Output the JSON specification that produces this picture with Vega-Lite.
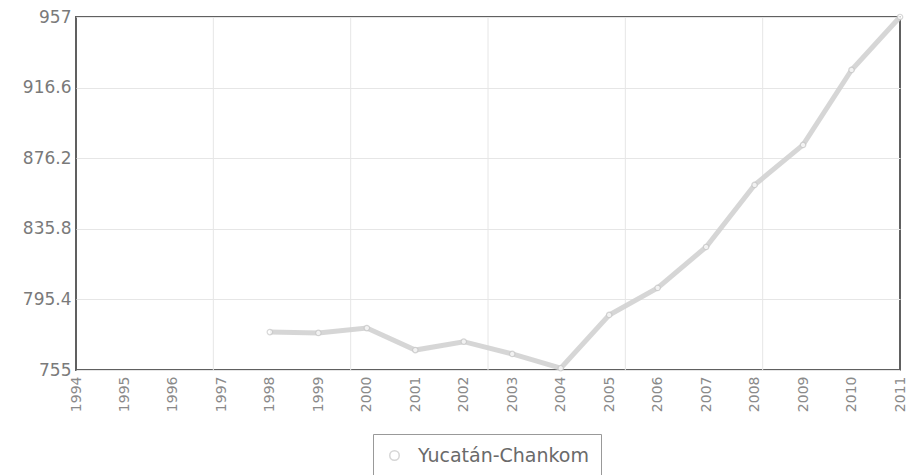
{
  "$schema": "https://vega.github.io/schema/vega-lite/v6.json",
  "autosize": {"type": "none"},
  "width": 824,
  "height": 353,
  "padding": {"left": 76, "top": 17, "right": 8, "bottom": 105},
  "background": "white",
  "config": {
    "view": {"stroke": "#606060", "strokeWidth": 2},
    "font": "DejaVu Sans"
  },
  "datasets": {
    "main": [
      {"year": 1998, "value": 776.7, "series": "Yucatán-Chankom"},
      {"year": 1999, "value": 776.2, "series": "Yucatán-Chankom"},
      {"year": 2000, "value": 779.0, "series": "Yucatán-Chankom"},
      {"year": 2001, "value": 766.4, "series": "Yucatán-Chankom"},
      {"year": 2002, "value": 771.2, "series": "Yucatán-Chankom"},
      {"year": 2003, "value": 764.2, "series": "Yucatán-Chankom"},
      {"year": 2004, "value": 756.0, "series": "Yucatán-Chankom"},
      {"year": 2005, "value": 786.5, "series": "Yucatán-Chankom"},
      {"year": 2006, "value": 802.0, "series": "Yucatán-Chankom"},
      {"year": 2007, "value": 825.4, "series": "Yucatán-Chankom"},
      {"year": 2008, "value": 860.9, "series": "Yucatán-Chankom"},
      {"year": 2009, "value": 883.8, "series": "Yucatán-Chankom"},
      {"year": 2010, "value": 926.7, "series": "Yucatán-Chankom"},
      {"year": 2011, "value": 957.0, "series": "Yucatán-Chankom"}
    ],
    "grid": [
      {"g": 1996.8333},
      {"g": 1999.6667},
      {"g": 2002.5},
      {"g": 2005.3333},
      {"g": 2008.1667}
    ]
  },
  "layer": [
    {
      "data": {"name": "grid"},
      "mark": {"type": "rule", "color": "#e6e6e6", "strokeWidth": 1},
      "encoding": {
        "x": {
          "field": "g", "type": "quantitative",
          "scale": {"domain": [1994, 2011], "nice": false, "zero": false},
          "axis": {
            "title": null, "values": [1994,1995,1996,1997,1998,1999,2000,2001,2002,2003,2004,2005,2006,2007,2008,2009,2010,2011],
            "format": "d", "labelAngle": 270, "labelFontSize": 14, "labelColor": "#8a8a8a",
            "grid": false, "domain": false, "ticks": false, "labelPadding": 6
          }
        }
      }
    },
    {
      "data": {"name": "main"},
      "mark": {"type": "line", "strokeWidth": 5, "opacity": 0.9},
      "encoding": {
        "x": {
          "field": "year", "type": "quantitative",
          "scale": {"domain": [1994, 2011], "nice": false, "zero": false},
          "axis": {
            "title": null, "values": [1994,1995,1996,1997,1998,1999,2000,2001,2002,2003,2004,2005,2006,2007,2008,2009,2010,2011],
            "format": "d", "labelAngle": 270, "labelFontSize": 14, "labelColor": "#8a8a8a",
            "grid": false, "domain": false, "ticks": false, "labelPadding": 6
          }
        },
        "y": {
          "field": "value", "type": "quantitative",
          "scale": {"domain": [755, 957], "nice": false, "zero": false},
          "axis": {
            "title": null, "values": [755, 795.4, 835.8, 876.2, 916.6, 957],
            "labelExpr": "'' + datum.value",
            "labelFontSize": 17, "labelColor": "#7a7a7a", "domain": false, "ticks": false,
            "gridColor": "#e6e6e6", "labelPadding": 5
          }
        },
        "color": {
          "field": "series", "type": "nominal",
          "scale": {"range": ["#d2d2d2"]},
          "legend": {
            "title": null, "orient": "none", "legendX": 297, "legendY": 417,
            "strokeColor": "#999999", "padding": 12,
            "labelFontSize": 19, "labelColor": "#6a6a6a", "labelOffset": 14, "labelLimit": 400,
            "symbolType": "circle", "symbolFillColor": "white", "symbolStrokeColor": "#c0c0c0",
            "symbolSize": 90, "symbolStrokeWidth": 1.5
          }
        }
      }
    },
    {
      "data": {"name": "main"},
      "mark": {"type": "point", "shape": "circle", "filled": true, "fill": "white", "stroke": "#c8c8c8", "strokeWidth": 1.2, "size": 30},
      "encoding": {
        "x": {"field": "year", "type": "quantitative"},
        "y": {"field": "value", "type": "quantitative"}
      }
    }
  ]
}
